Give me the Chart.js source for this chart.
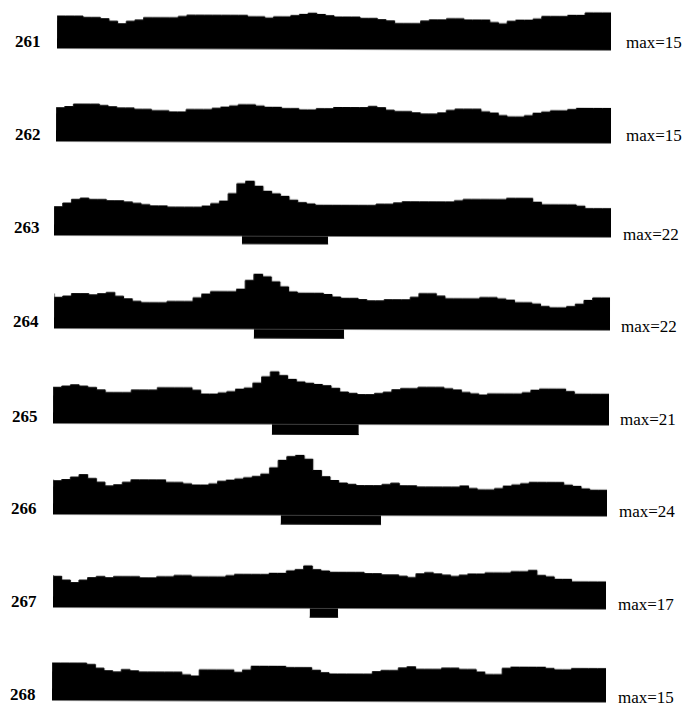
<!DOCTYPE html>
<html>
<head>
<meta charset="utf-8">
<script src="https://cdn.jsdelivr.net/npm/chart.js@4.4.1/dist/chart.umd.min.js"></script>
<style>
  html, body { margin: 0; padding: 0; background: #fff; }
  body { width: 683px; height: 707px; position: relative; overflow: hidden; }
  canvas { position: absolute; }
  .lbl { position: absolute; font-family: "Liberation Serif", "DejaVu Serif", serif; font-size: 17px; line-height: 17px; color: #000; white-space: nowrap; }
  .id { font-weight: bold; }
</style>
</head>
<body>
<script>
// histogramy 64 przedzialow, wartosci = liczba zliczen
const rowIds = ['261', '262', '263', '264', '265', '266', '267', '268'];
const maxLabels = ['max=15', 'max=15', 'max=22', 'max=22', 'max=21', 'max=24', 'max=17', 'max=15'];

const counts261 = [13,13,13,13,12.5,12.5,12,11,10,11,11.5,12.5,12.5,12.5,12.5,13,13.5,13.5,13.5,13.5,13.5,13.5,13.5,13,13,12.5,13,13,13.5,14,14.5,14,13.5,13,13,13,12.5,12.5,12,11.5,10.5,10.5,10.5,11.5,12,12,12.5,12.5,12,12,12,11,10.5,11.5,12,12,12.5,13.5,13.5,13.5,14,14,15,15];
const counts262 = [13.5,13.5,14,15,15,15,14.5,14,13.5,13.5,13,13,12.5,12.5,12,12,13,13,13,13.5,14,14.5,15,15,14.5,14,14,13.5,13.5,13,13,13.5,13.5,14,14,14,14,14.5,14,13,12.5,12.5,12,11.5,11.5,12,13,13.5,13.5,13.5,12.5,12,11,10.5,10.5,11,12,12.5,13,13,13.5,14,14,14];
const counts263 = [11,11.5,13,14.5,15,14.5,14.5,14,14,13.5,13,12.5,12,12,11.5,11.5,11.5,11.5,12,13,14,17,21,22,20,18,17,16,14.5,13.5,13,12.5,12.5,12.5,12.5,12.5,12.5,12.5,13,13,13.5,14,14,14,14,14,14,14.5,15,15,15,15,15,15.5,15.5,15.5,14,13,13,13,13,12.5,11.5,11.5];
const counts264 = [14,12.5,13,14,14,13.5,14,14.5,13,12,11,10.5,10.5,10.5,11,11,11,12.5,14,15,15,15,16,19.5,22,21,19,17,15,14.5,14.5,14.5,14,13,12.5,12.5,12,11.5,11.5,12,12,12,13,14.5,14.5,13.5,12.5,12.5,12.5,12.5,13,13,12.5,12,11,11,10.5,9.5,9,9,9.5,10.5,12,13];
const counts265 = [13,14.5,15,15.5,15,14.5,13.5,12.5,12.5,12.5,13.5,13.5,13.5,14.5,14.5,14.5,14.5,13.5,12,12,12.5,13,14,14.5,16.5,19,21,19.5,18,17,16.5,16,15.5,14.5,13,12.5,12,12,12.5,13,14,14.5,14.5,15,15,15,14.5,14,13,12.5,12,12.5,12.5,12.5,12.5,13,14,14.5,14.5,14.5,13.5,12.5,12.5,12.5];
const counts266 = [14,13.5,14,15,16,14.5,13,11.5,12,13,14,14,14,14,13,13,12.5,12,12,12.5,13.5,14,14.5,15,15.5,16.5,19,22,23.5,24,22.5,18,15.5,14,13,12.5,12,12,12,12.5,13,12,12,11.5,11.5,11.5,11.5,11.5,12,11,10.5,10.5,11,12,12.5,13,13.5,13.5,13.5,13.5,12.5,12,11,10.5];
const counts267 = [13,12.5,11,10,11,12,12.5,12,12.5,12.5,12.5,12,12,12.5,12.5,13,13,12.5,12.5,12.5,12.5,13,13.5,13.5,13.5,13.5,14,14,15,15.5,17,15.5,15,14.5,14.5,14.5,14.5,14,14,13.5,13.5,13,12.5,14,14.5,14,13.5,13,13.5,14,14,14.5,14.5,14.5,15,15,15.5,13.5,13,12,12,11,11,11];
const counts268 = [15,15,15,15,15,14.5,13,12,11.5,12.5,12,11.5,11.5,11.5,11.5,11.5,10.5,10,12.5,12.5,12.5,12.5,11.5,12.5,14,14,14,14,13.5,13.5,13.5,12.5,11.5,11,11,11,11,11,12,12.5,12.5,13.5,14,13,13,13,13.5,13.5,13,13,12,11,11,13.5,14,14,14,14,13.5,13,13,13.5,13.5,13.5];

// belka pod osia: [od przedzialu, do przedzialu, glebokosc]
const marker263 = [21.6, 31.5, 3];
const marker264 = [23.0, 33.4, 3.5];
const marker265 = [25.2, 35.2, 4];
const marker266 = [26.3, 37.9, 3.5];
const marker267 = [29.7, 33.0, 3.5];

const allCounts = [counts261, counts262, counts263, counts264, counts265, counts266, counts267, counts268];
const allMarkers = [null, null, marker263, marker264, marker265, marker266, marker267, null];

// polozenie wierszy na stronie: lewa krawedz, prawa krawedz, linia bazowa
const rowBox = [
  [57, 611, 48.5], [56, 611, 141], [54, 611, 235.5], [54, 610, 328.5],
  [53, 609, 423.5], [53, 607, 514], [53, 606, 607.5], [52, 606, 700]
];
const idPos = [[15, 47], [15, 140], [14, 233], [13, 327], [12, 422], [11, 514], [11, 607], [10, 700]];
const maxPos = [[626, 48], [626, 141], [623, 240], [621, 332], [620, 425], [619, 517], [618, 610], [618, 703]];

const PX = 2.5;       // piksele na jedno zliczenie
const YMAX = 25, YMIN = -5;

function addText(txt, x, baseline, cls) {
  const d = document.createElement('div');
  d.className = 'lbl ' + cls;
  d.textContent = txt;
  d.style.left = x + 'px';
  d.style.top = (baseline - 14.3) + 'px';
  document.body.appendChild(d);
}

rowIds.forEach((id, r) => {
  const [left, right, base] = rowBox[r];
  const cv = document.createElement('canvas');
  const w = right - left, h = (YMAX - YMIN) * PX;
  cv.width = w; cv.height = h;
  cv.style.left = left + 'px';
  cv.style.top = (base - YMAX * PX) + 'px';
  cv.style.transformOrigin = '0px ' + (YMAX * PX) + 'px';
  cv.style.transform = 'rotate(0.2deg)';
  document.body.appendChild(cv);

  const vals = allCounts[r];
  const pts = vals.map((v, i) => ({ x: i, y: v }));
  pts.push({ x: vals.length, y: vals[vals.length - 1] });

  const datasets = [{
    data: pts,
    stepped: 'after',
    borderColor: '#000',
    backgroundColor: '#000',
    borderWidth: 1,
    pointRadius: 0,
    fill: 'origin'
  }];
  const m = allMarkers[r];
  if (m) {
    datasets.push({
      data: [{ x: m[0], y: -m[2] }, { x: m[1], y: -m[2] }],
      borderColor: '#000',
      backgroundColor: '#000',
      borderWidth: 1,
      pointRadius: 0,
      fill: 'origin'
    });
  }

  new Chart(cv.getContext('2d'), {
    type: 'line',
    data: { datasets: datasets },
    options: {
      responsive: false,
      animation: false,
      devicePixelRatio: 1,
      layout: { padding: 0 },
      scales: {
        x: { type: 'linear', min: 0, max: vals.length, display: false },
        y: { min: YMIN, max: YMAX, display: false }
      },
      plugins: { legend: { display: false }, tooltip: { enabled: false } }
    }
  });

  addText(id, idPos[r][0], idPos[r][1], 'id');
  addText(maxLabels[r], maxPos[r][0], maxPos[r][1], 'mx');
});
</script>
</body>
</html>
